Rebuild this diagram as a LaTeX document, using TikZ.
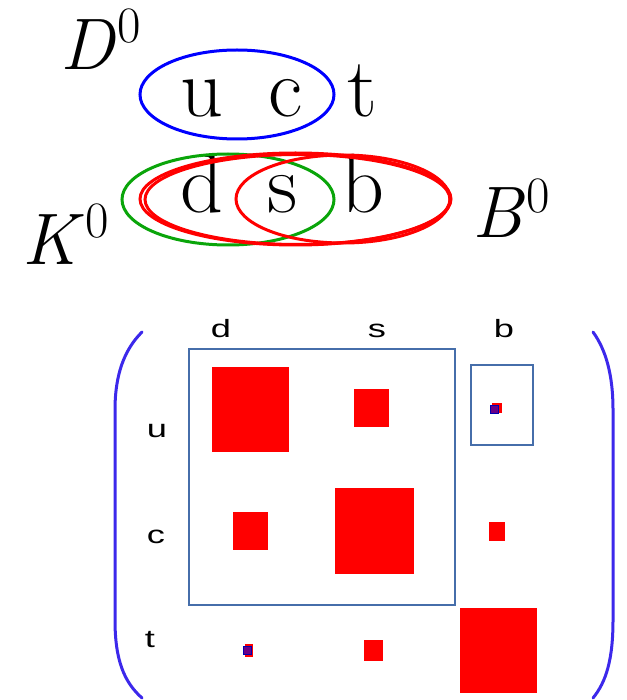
\documentclass[tikz,border=0pt]{standalone}
\usepackage{fontspec}
\newfontfamily\lblfont{Liberation Sans}
\definecolor{ellblue}{RGB}{0,0,255}
\definecolor{ellgreen}{RGB}{10,165,10}
\definecolor{ellred}{RGB}{255,0,0}
\definecolor{parcol}{RGB}{60,40,235}
\definecolor{framecol}{RGB}{70,110,170}
\definecolor{purp}{RGB}{105,0,135}
\newcommand{\mesonlbl}[2]{{\itshape #1\/}\kern2pt\raisebox{#2}{\fontsize{51}{51}\selectfont 0}}
\tikzset{
  quark/.style={anchor=base, inner sep=0pt, font=\fontsize{84}{86}\selectfont},
  meson/.style={anchor=base west, inner sep=0pt, font=\fontsize{73}{75}\selectfont},
  ell/.style={line width=3pt},
  paren/.style={draw=parcol, line width=3pt, line cap=round},
  frm/.style={draw=framecol, line width=1.2pt},
  sq/.style={fill=ellred},
  tiny/.style={fill=purp, draw=blue!70!black, line width=0.6pt},
  mlabel/.style={anchor=base, inner sep=0pt, font=\lblfont\fontsize{25}{27}\selectfont}
}
\begin{document}
\begin{tikzpicture}[x=1pt,y=-1pt]
\useasboundingbox (0,0) rectangle (626,700);
% top diagram
\node[quark] (u) at (202,117) {u};
\node[quark] (c) at (286,117) {c};
\node[quark] (t) at (362,117) {t};
\node[quark] (d) at (202,213) {d};
\node[quark] (s) at (283,213) {s};
\node[quark] (b) at (363,213) {b};
\node[meson] (D0) at (60,70) {\mesonlbl{D}{27pt}};
\node[meson] (K0) at (22,265) {\mesonlbl{K}{27pt}};
\node[meson] (B0) at (472,238) {\mesonlbl{B}{25pt}};
\draw[ell, draw=ellblue] (237,94.5) ellipse [x radius=97, y radius=44.5];
\draw[ell, draw=ellgreen] (228,199.5) ellipse [x radius=106, y radius=45.5];
\draw[ell, draw=ellred] (295.5,199) ellipse [x radius=155.5, y radius=46];
\draw[ell, draw=ellred] (297.5,199.5) ellipse [x radius=152.5, y radius=45];
\draw[ell, draw=ellred] (343,199) ellipse [x radius=107, y radius=44];
% matrix parentheses
\draw[paren] (142,332) .. controls (124,350) and (115,375) .. (115,410) -- (115,620) .. controls (115,660) and (124,682) .. (142,698);
\draw[paren] (593,332) .. controls (606,350) and (613,375) .. (613,410) -- (613,620) .. controls (613,660) and (606,682) .. (593,698);
% labels
\node[mlabel] (cd) at (221,337) {\scalebox{1.45}[1]{d}};
\node[mlabel] (cs) at (377,337) {\scalebox{1.45}[1]{s}};
\node[mlabel] (cb) at (504,337) {\scalebox{1.45}[1]{b}};
\node[mlabel] (ru) at (157,437) {\scalebox{1.45}[1]{u}};
\node[mlabel] (rc) at (156,543) {\scalebox{1.45}[1]{c}};
\node[mlabel] (rt) at (150,647) {\scalebox{1.45}[1]{t}};
% frames
\draw[frm] (189,349) rectangle (455,605);
\draw[frm] (471,365) rectangle (533,445);
% squares
\fill[sq] (212,367) rectangle (289,452);
\fill[sq] (354,389) rectangle (389,427);
\fill[sq] (492,403) rectangle (502,413);
\filldraw[tiny] (490,405) rectangle (498,413);
\fill[sq] (233,512) rectangle (268,550);
\fill[sq] (335,488) rectangle (414,574);
\fill[sq] (489,522) rectangle (505,541);
\fill[sq] (245,644) rectangle (253,657);
\filldraw[tiny] (243,646) rectangle (251,654);
\fill[sq] (364,640) rectangle (383,661);
\fill[sq] (460,608) rectangle (537,693);
\end{tikzpicture}
\end{document}
